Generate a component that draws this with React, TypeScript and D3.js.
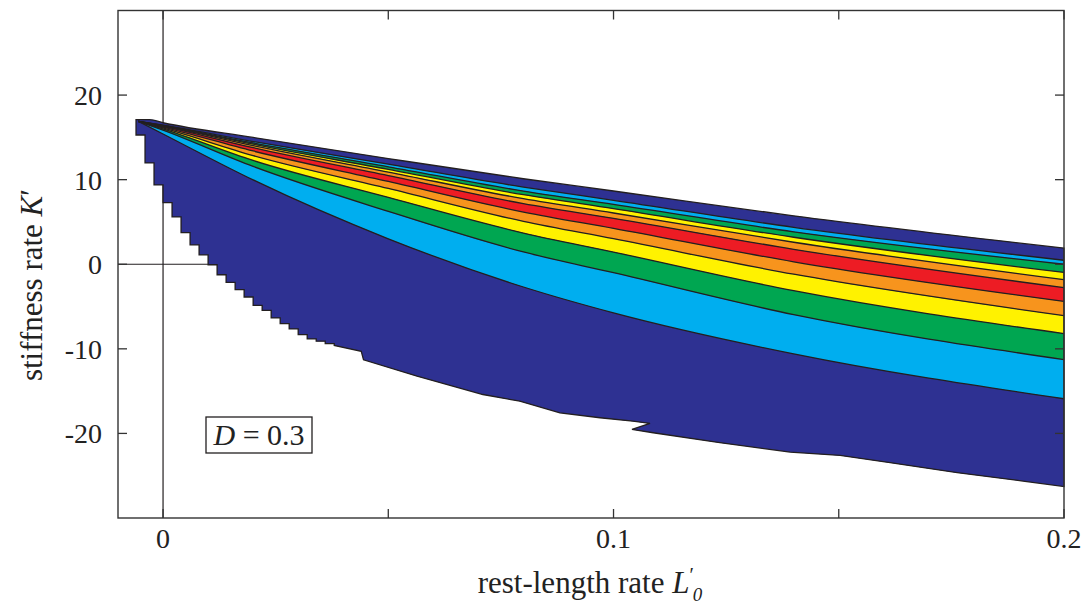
import React, { useRef, useEffect } from "react";
import * as d3 from "d3";

// rest-length rate samples shared by all contour boundaries
const lineX = [-0.0055, 0, 0.02, 0.05, 0.08, 0.1, 0.14, 0.2];

// contour boundaries (stiffness rate K'), from the top of the region down
const navyToCyan = [16.9, 16.45, 14.51, 11.83, 9.12, 7.56, 4.37, 0.47];
const cyanToGreen = [16.9, 16.41, 14.34, 11.52, 8.65, 7.07, 3.83, 0.0];
const greenToYellow = [16.9, 16.39, 14.19, 11.22, 8.22, 6.57, 3.19, -0.97];
const yellowToOrange = [16.9, 16.35, 14.02, 10.9, 7.75, 6.06, 2.6, -1.83];
const orangeToRed = [16.9, 16.31, 13.78, 10.48, 7.16, 5.43, 1.77, -2.77];
const redToOrange = [16.9, 16.22, 13.39, 9.79, 6.17, 4.24, 0.29, -4.39];
const orangeToYellow = [16.9, 16.11, 12.84, 8.96, 5.07, 3.02, -1.18, -6.08];
const yellowToGreen = [16.9, 16.0, 12.27, 7.91, 3.69, 1.44, -3.13, -8.2];
const greenToCyan = [16.9, 15.85, 11.56, 6.25, 1.45, -1.0, -5.96, -11.27];
const cyanToNavy = [16.9, 15.4, 9.97, 3.01, -2.69, -5.75, -10.6, -15.9];

const bandColors = ["#2E3192", "#00AEEF", "#00A651", "#FFF200", "#F7941D",
  "#ED1C24", "#F7941D", "#FFF200", "#00A651", "#00AEEF", "#2E3192"];

// upper edge of the feasible region
const topX = [-0.006, -0.003, 0, 0.02, 0.05, 0.08, 0.1, 0.14, 0.2];
const topK = [17.1, 17.1, 16.73, 14.99, 12.5, 10.11, 8.66, 5.72, 1.91];

// lower edge: grid columns near the origin (step 0.002), then a traced edge
const stairStart = -0.006;
const stairStep = 0.002;
const stairK = [15.28, 11.98, 9.38, 7.29, 5.6, 3.75, 2.3, 1.12, -0.06, -1.24,
  -2.15, -3.01, -3.87, -4.86, -5.45, -6.35, -7.02, -7.65, -8.32, -8.83, -9.09, -9.38];
const tailX = [0.038, 0.044, 0.0445, 0.0564, 0.071, 0.0792, 0.0881, 0.097, 0.1043,
  0.1081, 0.1041, 0.1088, 0.1236, 0.1392, 0.1503, 0.1614, 0.1763, 0.1909, 0.2];
const tailK = [-9.6, -10.3, -11.3, -13.24, -15.4, -16.19, -17.56, -18.15, -18.55,
  -18.82, -19.53, -19.92, -21.1, -22.21, -22.6, -23.46, -24.64, -25.63, -26.29];

const xTicks = [0, 0.05, 0.1, 0.15, 0.2];
const xTickLabels = ["0", "", "0.1", "", "0.2"];
const yTicks = [-20, -10, 0, 10, 20];
const yTickLabels = ["-20", "-10", "0", "10", "20"];

const App = () => {
  const svgRef = useRef(null);

  useEffect(() => {
    const svg = d3.select(svgRef.current);
    svg.selectAll("*").remove();

    const left = 118, right = 1064, top = 10.5, bottom = 518;
    const x = d3.scaleLinear().domain([-0.01, 0.2]).range([left, right]);
    const y = d3.scaleLinear().domain([-30, 30]).range([bottom, top]);
    const ink = "#231F20";
    const font = "'Liberation Serif', 'Times New Roman', serif";

    // zero lines sit under the coloured region
    svg.append("line")
      .attr("x1", x(0)).attr("x2", x(0)).attr("y1", top).attr("y2", bottom)
      .attr("stroke", ink).attr("stroke-width", 1.2);
    svg.append("line")
      .attr("x1", left).attr("x2", right).attr("y1", y(0)).attr("y2", y(0))
      .attr("stroke", ink).attr("stroke-width", 1.2);

    // region outline
    const topPts = topX.map((v, i) => [x(v), y(topK[i])]);
    const lowPts = [];
    stairK.forEach((k, i) => {
      lowPts.push([x(stairStart + i * stairStep), y(k)]);
      lowPts.push([x(stairStart + (i + 1) * stairStep), y(k)]);
    });
    tailX.forEach((v, i) => lowPts.push([x(v), y(tailK[i])]));
    const topPath = d3.line().curve(d3.curveMonotoneX)(topPts);
    const lowPath = d3.line()(lowPts.slice().reverse());
    const outline = topPath + "L" + lowPath.slice(1) + "Z";

    svg.append("clipPath").attr("id", "regionClip")
      .append("path").attr("d", outline);

    svg.append("path").attr("d", outline).attr("fill", bandColors[0]);

    const levels = [navyToCyan, cyanToGreen, greenToYellow, yellowToOrange, orangeToRed,
      redToOrange, orangeToYellow, yellowToGreen, greenToCyan, cyanToNavy];

    const g = svg.append("g").attr("clip-path", "url(#regionClip)");

    // bands between consecutive boundaries
    for (let i = 0; i < levels.length - 1; i++) {
      const upper = levels[i], lower = levels[i + 1];
      const area = d3.area()
        .curve(d3.curveMonotoneX)
        .x((d) => x(d))
        .y0((d, j) => y(lower[j]))
        .y1((d, j) => y(upper[j]));
      g.append("path").attr("d", area(lineX)).attr("fill", bandColors[i + 1]);
    }
    // below the last boundary
    const last = levels[levels.length - 1];
    const lowArea = d3.area()
      .curve(d3.curveMonotoneX)
      .x((d) => x(d))
      .y0(bottom + 50)
      .y1((d, j) => y(last[j]));
    g.append("path").attr("d", lowArea(lineX)).attr("fill", bandColors[10]);

    // contour lines
    const line = d3.line().curve(d3.curveMonotoneX);
    levels.forEach((lv) => {
      g.append("path")
        .attr("d", line(lineX.map((v, j) => [x(v), y(lv[j])])))
        .attr("fill", "none").attr("stroke", ink).attr("stroke-width", 1.3);
    });

    svg.append("path").attr("d", outline)
      .attr("fill", "none").attr("stroke", ink).attr("stroke-width", 1.3)
      .attr("stroke-linejoin", "miter");

    // frame
    svg.append("rect")
      .attr("x", left).attr("y", top)
      .attr("width", right - left).attr("height", bottom - top)
      .attr("fill", "none").attr("stroke", "#333").attr("stroke-width", 1.4);

    const tick = 9;
    yTicks.forEach((t, i) => {
      svg.append("line").attr("x1", left).attr("x2", left + tick)
        .attr("y1", y(t)).attr("y2", y(t)).attr("stroke", "#333").attr("stroke-width", 1.3);
      svg.append("line").attr("x1", right).attr("x2", right - tick)
        .attr("y1", y(t)).attr("y2", y(t)).attr("stroke", "#333").attr("stroke-width", 1.3);
      svg.append("text")
        .attr("x", 102).attr("y", y(t) + 10)
        .attr("text-anchor", "end")
        .style("font-family", font).style("font-size", "28px").style("fill", "#222")
        .text(yTickLabels[i]);
    });
    xTicks.forEach((t, i) => {
      svg.append("line").attr("x1", x(t)).attr("x2", x(t))
        .attr("y1", bottom).attr("y2", bottom - tick).attr("stroke", "#333").attr("stroke-width", 1.3);
      svg.append("line").attr("x1", x(t)).attr("x2", x(t))
        .attr("y1", top).attr("y2", top + tick).attr("stroke", "#333").attr("stroke-width", 1.3);
      svg.append("text")
        .attr("x", x(t)).attr("y", 548)
        .attr("text-anchor", "middle")
        .style("font-family", font).style("font-size", "28px").style("fill", "#222")
        .text(xTickLabels[i]);
    });

    // axis titles
    const xl = svg.append("text")
      .attr("x", 590).attr("y", 593)
      .attr("text-anchor", "middle")
      .style("font-family", font).style("font-size", "31px").style("fill", "#222");
    xl.append("tspan").text("rest-length rate ");
    xl.append("tspan").style("font-style", "italic").text("L");
    xl.append("tspan").attr("dy", -11).style("font-size", "20px").text("′");
    xl.append("tspan").attr("dx", -1).attr("dy", 19).style("font-style", "italic")
      .style("font-size", "19px").text("0");

    const yl = svg.append("text")
      .attr("transform", "translate(42, 285) rotate(-90)")
      .attr("text-anchor", "middle")
      .style("font-family", font).style("font-size", "31px").style("fill", "#222");
    yl.append("tspan").text("stiffness rate ");
    yl.append("tspan").style("font-style", "italic").text("K");
    yl.append("tspan").text("′");

    // parameter box
    svg.append("rect")
      .attr("x", 206).attr("y", 417).attr("width", 106).attr("height", 36)
      .attr("fill", "white").attr("stroke", ink).attr("stroke-width", 1.3);
    const dl = svg.append("text")
      .attr("x", 259).attr("y", 445)
      .attr("text-anchor", "middle")
      .style("font-family", font).style("font-size", "30px").style("fill", "#222");
    dl.append("tspan").style("font-style", "italic").text("D");
    dl.append("tspan").text(" = 0.3");
  }, []);

  return (
    <svg
      ref={svgRef}
      width={1091}
      height={604}
      style={{ position: "absolute", left: 0, top: 0, background: "white" }}
    ></svg>
  );
};

export default App;
